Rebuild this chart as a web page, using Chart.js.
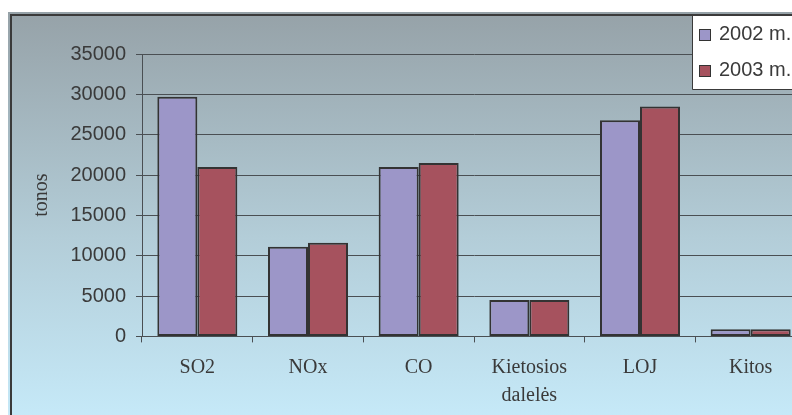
<!DOCTYPE html>
<html>
<head>
<meta charset="utf-8">
<script src="https://cdn.jsdelivr.net/npm/chart.js@4"></script>
<style>
    html, body { margin: 0; padding: 0; background: #fff; overflow: hidden; width: 792px; height: 415px; }
    .bg { position: absolute; left: 8px; top: 12px; width: 840px; height: 410px;
          background: linear-gradient(to bottom, #96a2a8 0%, #b3cdd8 55%, #c6eaf9 100%); }
    .edge { position: absolute; left: 10px; top: 14px; width: 840px; height: 410px;
            border-left: 2px solid #3a3a3a; border-top: 2px solid #3a3a3a; }
    #chart { position: absolute; left: 0; top: 0; }
</style>
</head>
<body>
<div class="bg"></div>
<div class="edge"></div>
<canvas id="chart" width="806" height="415"></canvas>
<script>
// Teršalų išmetimai, tonos
const categories = ['SO2', 'NOx', 'CO', ['Kietosios', 'dalelės'], 'LOJ', 'Kitos'];
const seriesLabels = ['2002 m.', '2003 m.'];
const values2002 = [29700, 11100, 21000, 4500, 26800, 900];
const values2003 = [21000, 11600, 21500, 4500, 28500, 900];
const seriesColors = ['#9c96c8', '#a6525e'];
const yMax = 35000;
const yStep = 5000;

const textColor = '#3a3a3a';
const lineColor = '#4a4f53';

// legend box in the top right corner, cut off by the page edge
const boxLegend = {
    id: 'boxLegend',
    afterDraw(chart) {
        const ctx = chart.ctx;
        ctx.save();
        ctx.fillStyle = '#ffffff';
        ctx.fillRect(692, 16, 120, 73);
        ctx.strokeStyle = '#3a3a3a';
        ctx.lineWidth = 1;
        ctx.beginPath();
        ctx.moveTo(692.5, 16);
        ctx.lineTo(692.5, 89.5);
        ctx.lineTo(812, 89.5);
        ctx.stroke();

        ctx.font = '20px "Liberation Sans", Arial, sans-serif';
        ctx.textBaseline = 'alphabetic';
        chart.data.datasets.forEach((ds, i) => {
            const y = 29 + i * 36;
            ctx.fillStyle = ds.backgroundColor;
            ctx.fillRect(699, y, 12, 12);
            ctx.strokeStyle = '#333';
            ctx.strokeRect(699.5, y + 0.5, 11, 11);
            ctx.fillStyle = textColor;
            ctx.fillText(ds.label, 719, y + 11);
        });
        ctx.restore();
    }
};

new Chart(document.getElementById('chart'), {
    type: 'bar',
    data: {
        labels: categories,
        datasets: [
            { label: seriesLabels[0], data: values2002, backgroundColor: seriesColors[0] },
            { label: seriesLabels[1], data: values2003, backgroundColor: seriesColors[1] }
        ]
    },
    options: {
        responsive: false,
        animation: false,
        devicePixelRatio: 1,
        layout: { padding: { top: 54, left: 0, right: 0, bottom: 0 } },
        datasets: {
            bar: {
                categoryPercentage: 0.723,
                barPercentage: 1,
                borderColor: '#333',
                borderWidth: 2,
                borderSkipped: false
            }
        },
        plugins: {
            legend: { display: false },
            tooltip: { enabled: false }
        },
        scales: {
            x: {
                afterFit: (scale) => { scale.height = 78.6; },
                grid: { drawOnChartArea: false, color: lineColor, tickLength: 6 },
                border: { color: lineColor, width: 1 },
                ticks: {
                    color: textColor,
                    padding: 11,
                    maxRotation: 0,
                    autoSkip: false,
                    font: { family: '"Liberation Serif", "Times New Roman", serif', size: 20, lineHeight: 1.4 }
                }
            },
            y: {
                min: 0,
                max: yMax,
                afterFit: (scale) => { scale.width = 142; },
                grid: { color: lineColor, tickLength: 6 },
                border: { color: lineColor, width: 1 },
                ticks: {
                    stepSize: yStep,
                    color: textColor,
                    padding: 10,
                    callback: (value) => String(value),
                    font: { family: '"Liberation Sans", Arial, sans-serif', size: 20 }
                },
                title: {
                    display: true,
                    text: 'tonos',
                    color: textColor,
                    padding: { top: 30, bottom: 0 },
                    font: { family: '"Liberation Serif", "Times New Roman", serif', size: 20 }
                }
            }
        }
    },
    plugins: [boxLegend]
});
</script>
</body>
</html>
